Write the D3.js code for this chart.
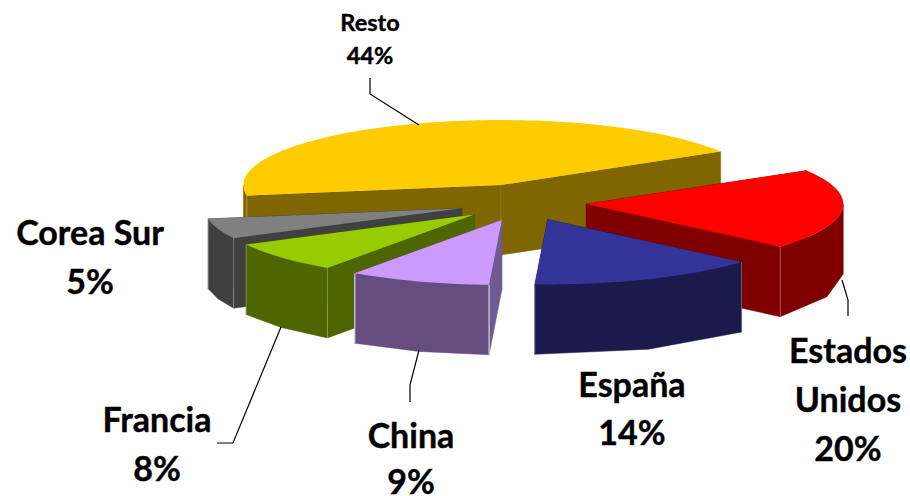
<!DOCTYPE html>
<html>
<head>
<meta charset="utf-8">
<script src="https://cdn.jsdelivr.net/npm/d3@7/dist/d3.min.js"></script>
<style>
  html, body { margin: 0; padding: 0; background: #fff; overflow: hidden; }
  text { font-family: Lato, "Open Sans", sans-serif; font-weight: 700; fill: #000; stroke: #000; stroke-width: 0.4px; text-anchor: middle; }
</style>
</head>
<body>
<svg></svg>
<script>
// pie values, labels show them rounded
var paises = ["Estados Unidos", "España", "China", "Francia", "Corea Sur", "Resto"];
var valores = [20, 14.4, 8.9, 7.7, 5, 44];

var colorTop = ["#ff0000", "#333399", "#cc99ff", "#99cc00", "#808080", "#ffcc00"];
var colorSide = ["#800000", "#1a1a4d", "#654d80", "#4d6600", "#404040", "#806600"];
var colorCut = ["#800000", "#1a1a4d", "#6f5a94", "#4d6600", "#404040", "#806600"];

var svgWidth = 910, svgHeight = 496;
var cx = 522.5, cy = 202.4, rx = 257, ry = 65, depth = 70;
var explodeX = 64, explodeY = 18.5;

var svg = d3.select("svg")
    .attr("width", svgWidth)
    .attr("height", svgHeight);

var pie = d3.pie().sort(null).startAngle(59 * Math.PI / 180).endAngle(419 * Math.PI / 180);

var slices = pie(valores).map(function(d, i) {
    var mid = (d.startAngle + d.endAngle) / 2;
    d.i = i;
    d.tipX = cx + explodeX * Math.sin(mid);
    d.tipY = cy - explodeY * Math.cos(mid);
    return d;
});

var line = d3.line();

function rim(d, a, dz) {
    return [d.tipX + rx * Math.sin(a), d.tipY - ry * Math.cos(a) + (dz || 0)];
}

function arcPoints(d, a0, a1, dz) {
    var n = Math.max(2, Math.ceil((a1 - a0) * 40));
    return d3.range(n + 1).map(function(k) {
        return rim(d, a0 + (a1 - a0) * k / n, dz);
    });
}

function cutFace(d, a) {
    return line([[d.tipX, d.tipY], rim(d, a), rim(d, a, depth), [d.tipX, d.tipY + depth]]) + "Z";
}

// part of the rim that faces the viewer, angle between 90 and 270 deg
function frontWall(d) {
    var parts = [];
    [[Math.PI / 2, 3 * Math.PI / 2], [Math.PI / 2 + 2 * Math.PI, 3 * Math.PI / 2 + 2 * Math.PI]].forEach(function(r) {
        var a0 = Math.max(d.startAngle, r[0]), a1 = Math.min(d.endAngle, r[1]);
        if (a1 > a0) {
            parts.push(line(arcPoints(d, a0, a1, 0).concat(arcPoints(d, a1, a0, depth))) + "Z");
        }
    });
    return parts.join("");
}

function topFace(d) {
    return line([[d.tipX, d.tipY]].concat(arcPoints(d, d.startAngle, d.endAngle, 0))) + "Z";
}

// back slices first
var drawOrder = slices.slice().sort(function(a, b) { return a.tipY - b.tipY; });

var groups = svg.selectAll("g.slice")
    .data(drawOrder)
    .enter()
    .append("g")
    .attr("class", "slice");

groups.each(function(d) {
    var g = d3.select(this);
    [d.endAngle, d.startAngle].forEach(function(a) {
        g.append("path").attr("d", cutFace(d, a))
            .style("fill", colorCut[d.i]).style("stroke", colorCut[d.i]).style("stroke-width", 0.5);
    });
    g.append("path").attr("d", frontWall(d))
        .style("fill", colorSide[d.i]).style("stroke", colorSide[d.i]).style("stroke-width", 0.5);

    // thin light seams on the front corners
    [d.startAngle, d.endAngle].forEach(function(a) {
        if (Math.cos(a) < 0.2) {
            var p0 = rim(d, a, 0), p1 = rim(d, a, depth);
            g.append("line")
                .attr("x1", p0[0]).attr("y1", p0[1])
                .attr("x2", p1[0]).attr("y2", p1[1])
                .style("stroke", "#fff").style("stroke-opacity", d.i == 2 ? 0.9 : 0.3).style("stroke-width", 1);
        }
    });

    g.append("path").attr("d", topFace(d)).style("fill", colorTop[d.i]);
});

// leader lines
var leaders = [
    [[370, 78], [370, 94], [419, 125]],
    [[842, 280], [848, 300], [848, 316]],
    [[419, 350], [410, 385], [410, 402]],
    [[281, 327], [233, 443], [217, 443]]
];

svg.selectAll("path.leader")
    .data(leaders)
    .enter()
    .append("path")
    .attr("class", "leader")
    .attr("d", function(d) { return line(d); })
    .style("fill", "none")
    .style("stroke", "#000")
    .style("stroke-width", 1.2);

// label lines per slice, same order as paises
var etiquetaNombre = [["Estados", "Unidos"], ["España"], ["China"], ["Francia"], ["Corea Sur"], ["Resto"]];
var etiquetaX = [848, 632, 411, 157, 90, 370];
var etiquetaY = [363, 397, 448, 432, 245, 31];
var etiquetaPaso = [49, 48, 46, 49, 49, 33];
var etiquetaSize = [34, 34, 34, 34, 34, 23.5];
var pct = d3.format(".0f");

valores.forEach(function(v, i) {
    var lines = etiquetaNombre[i].concat([pct(v) + "%"]);
    svg.selectAll("text.l" + i)
        .data(lines)
        .enter()
        .append("text")
        .attr("class", "l" + i)
        .attr("x", etiquetaX[i])
        .attr("y", function(d, k) { return etiquetaY[i] + k * etiquetaPaso[i]; })
        .style("font-size", etiquetaSize[i] + "px")
        .text(function(d) { return d; });
});
</script>
</body>
</html>
